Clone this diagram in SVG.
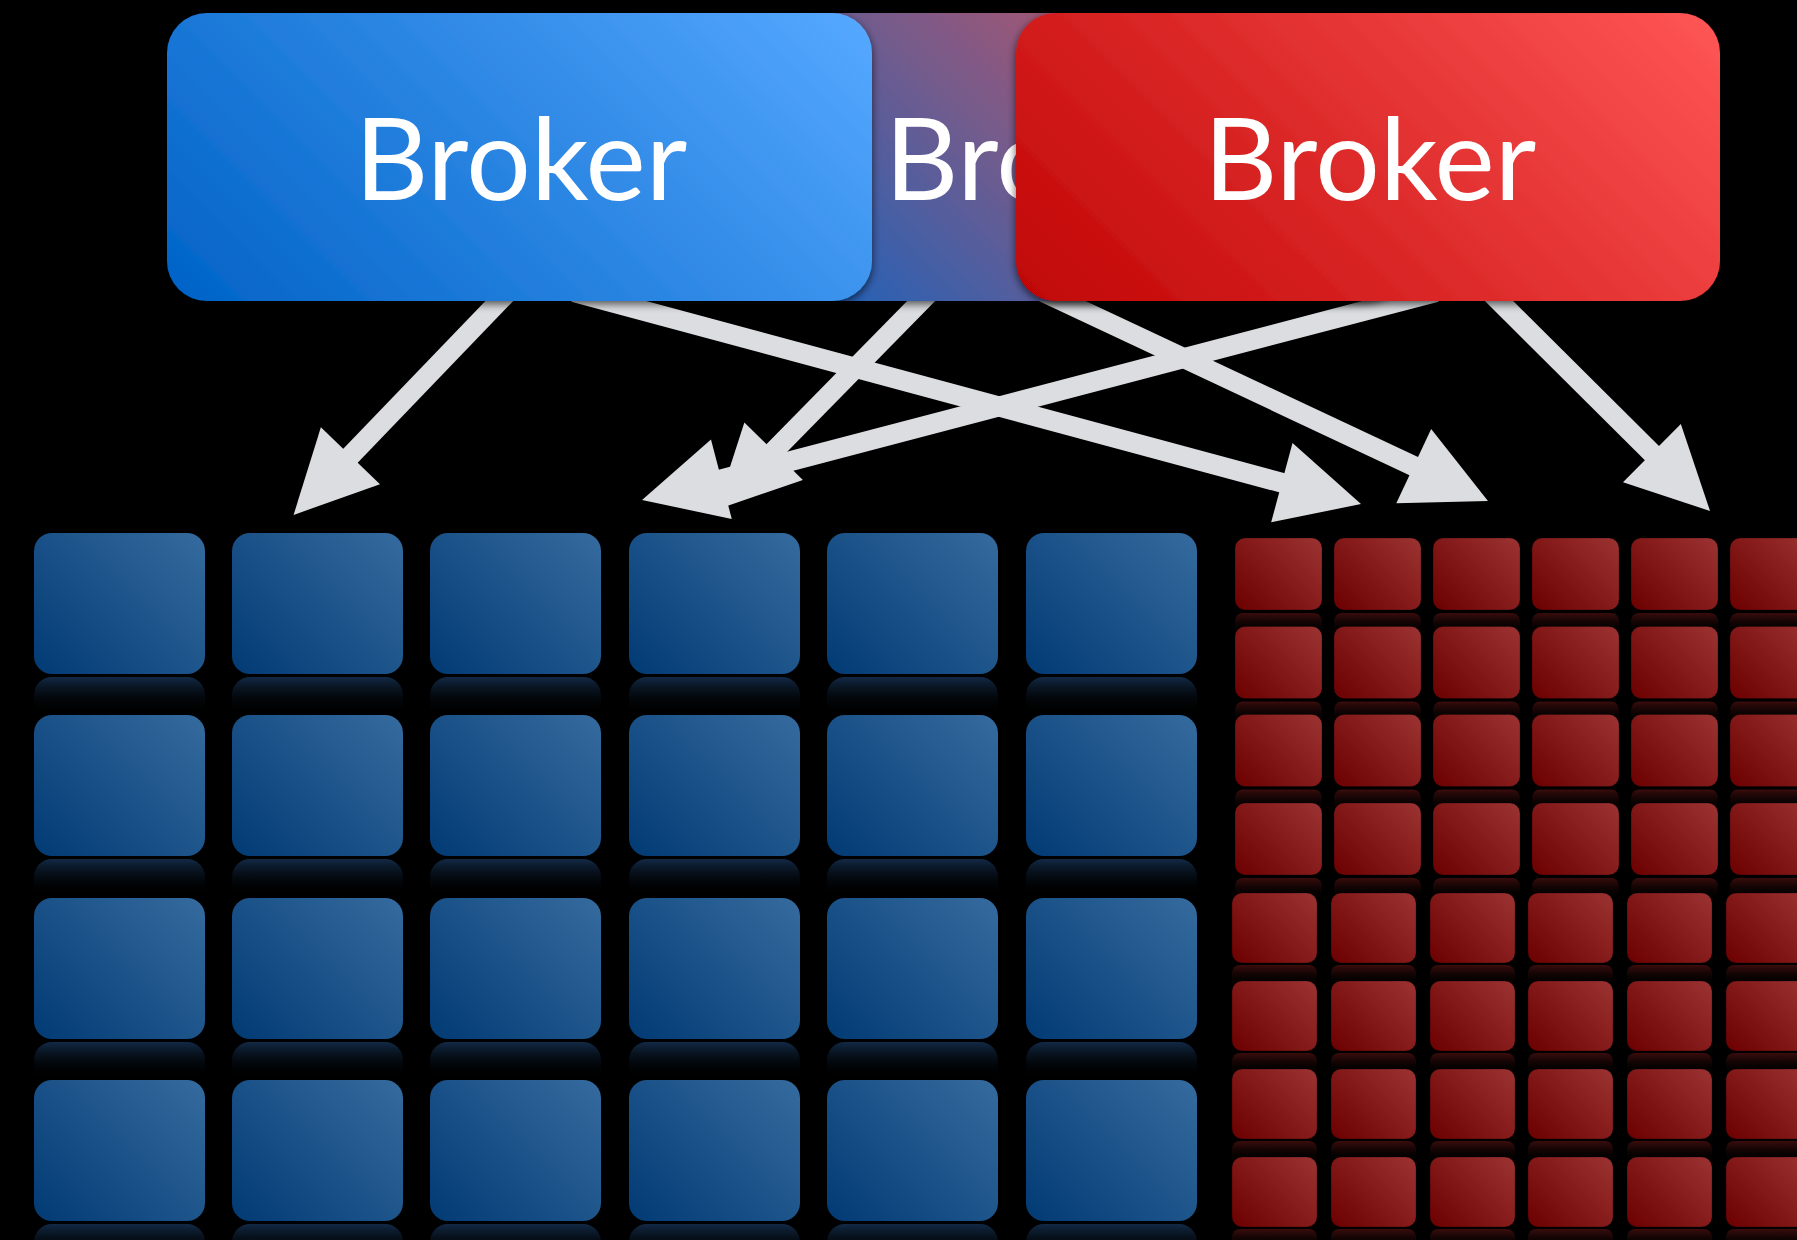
<svg xmlns="http://www.w3.org/2000/svg" xmlns:xlink="http://www.w3.org/1999/xlink" width="1797" height="1240" viewBox="0 0 1797 1240">
  <style>
    .label { font-family: "Lato", "Open Sans", "DejaVu Sans", sans-serif; font-size: 114px; fill: #ffffff; text-anchor: middle; }
    .link { stroke: #dcdde0; stroke-width: 20; fill: none; stroke-linecap: butt; marker-end: url(#head); }
  </style>
  <defs>
    <!-- broker fills: 45 degree sweep from the lower-left corner -->
    <linearGradient id="gBlueBroker" gradientUnits="userSpaceOnUse" x1="167" y1="301" x2="663.5" y2="-195.5">
      <stop offset="0" stop-color="#0062c6"/>
      <stop offset="1" stop-color="#56a9ff"/>
    </linearGradient>
    <linearGradient id="gRedBroker" gradientUnits="userSpaceOnUse" x1="1016" y1="301" x2="1512.5" y2="-195.5">
      <stop offset="0" stop-color="#c00404"/>
      <stop offset="1" stop-color="#ff5656"/>
    </linearGradient>
    <linearGradient id="gMidBroker" gradientUnits="userSpaceOnUse" x1="699" y1="301" x2="1195.5" y2="-195.5">
      <stop offset="0" stop-color="#0364c8"/>
      <stop offset="1" stop-color="#f85046"/>
    </linearGradient>
    <!-- tile fills, in each tile's own coordinates -->
    <linearGradient id="gBlueTile" gradientUnits="userSpaceOnUse" x1="0" y1="141" x2="156" y2="-15">
      <stop offset="0" stop-color="#023a74"/>
      <stop offset="1" stop-color="#356b9e"/>
    </linearGradient>
    <linearGradient id="gRedTileA" gradientUnits="userSpaceOnUse" x1="0" y1="72" x2="79.5" y2="-7.5">
      <stop offset="0" stop-color="#6c0000"/>
      <stop offset="1" stop-color="#9c3333"/>
    </linearGradient>
    <linearGradient id="gRedTileB" gradientUnits="userSpaceOnUse" x1="0" y1="70" x2="77.5" y2="-7.5">
      <stop offset="0" stop-color="#6c0000"/>
      <stop offset="1" stop-color="#9c3333"/>
    </linearGradient>
    <linearGradient id="gBlueRefl" x1="0" y1="0" x2="0" y2="1">
      <stop offset="0" stop-color="#1a3c64" stop-opacity="0.7"/>
      <stop offset="0.75" stop-color="#000000" stop-opacity="0"/>
    </linearGradient>
    <linearGradient id="gRedRefl" x1="0" y1="0" x2="0" y2="1">
      <stop offset="0" stop-color="#4a1010" stop-opacity="0.8"/>
      <stop offset="1" stop-color="#000000" stop-opacity="0"/>
    </linearGradient>
    <filter id="boxShadow" x="-10%" y="-10%" width="120%" height="130%">
      <feDropShadow dx="0" dy="3" stdDeviation="4" flood-color="#000000" flood-opacity="0.65"/>
    </filter>
    <marker id="head" markerUnits="userSpaceOnUse" viewBox="-20 -45 110 90" markerWidth="110" markerHeight="90" refX="10" refY="0" orient="auto">
      <path d="M0,-41 L82,0 L0,41 Z" fill="#dcdde0"/>
    </marker>

    <!-- partition tiles with their floor reflection -->
    <g id="blueTile">
      <rect x="0" y="144" width="171" height="48" rx="18" fill="url(#gBlueRefl)"/>
      <rect x="0" y="0" width="171" height="141" rx="18" fill="url(#gBlueTile)"/>
    </g>
    <g id="redTileA">
      <rect x="0" y="75" width="87" height="22" rx="8" fill="url(#gRedRefl)"/>
      <rect x="0" y="0" width="87" height="72" rx="10" fill="url(#gRedTileA)" stroke="#000" stroke-opacity="0.25" stroke-width="1"/>
    </g>
    <g id="redTileB">
      <rect x="0" y="72" width="85" height="22" rx="8" fill="url(#gRedRefl)"/>
      <rect x="0" y="0" width="85" height="70" rx="10" fill="url(#gRedTileB)" stroke="#000" stroke-opacity="0.25" stroke-width="1"/>
    </g>
  </defs>

  <rect x="0" y="0" width="1797" height="1240" fill="#000000"/>

  <!-- blue partitions: 6 columns x 4 rows -->
  <g id="blue-partitions">
    <use id="bp-1-1" xlink:href="#blueTile" x="34" y="533"/>
    <use id="bp-1-2" xlink:href="#blueTile" x="232" y="533"/>
    <use id="bp-1-3" xlink:href="#blueTile" x="430" y="533"/>
    <use id="bp-1-4" xlink:href="#blueTile" x="629" y="533"/>
    <use id="bp-1-5" xlink:href="#blueTile" x="827" y="533"/>
    <use id="bp-1-6" xlink:href="#blueTile" x="1026" y="533"/>
    <use id="bp-2-1" xlink:href="#blueTile" x="34" y="715"/>
    <use id="bp-2-2" xlink:href="#blueTile" x="232" y="715"/>
    <use id="bp-2-3" xlink:href="#blueTile" x="430" y="715"/>
    <use id="bp-2-4" xlink:href="#blueTile" x="629" y="715"/>
    <use id="bp-2-5" xlink:href="#blueTile" x="827" y="715"/>
    <use id="bp-2-6" xlink:href="#blueTile" x="1026" y="715"/>
    <use id="bp-3-1" xlink:href="#blueTile" x="34" y="898"/>
    <use id="bp-3-2" xlink:href="#blueTile" x="232" y="898"/>
    <use id="bp-3-3" xlink:href="#blueTile" x="430" y="898"/>
    <use id="bp-3-4" xlink:href="#blueTile" x="629" y="898"/>
    <use id="bp-3-5" xlink:href="#blueTile" x="827" y="898"/>
    <use id="bp-3-6" xlink:href="#blueTile" x="1026" y="898"/>
    <use id="bp-4-1" xlink:href="#blueTile" x="34" y="1080"/>
    <use id="bp-4-2" xlink:href="#blueTile" x="232" y="1080"/>
    <use id="bp-4-3" xlink:href="#blueTile" x="430" y="1080"/>
    <use id="bp-4-4" xlink:href="#blueTile" x="629" y="1080"/>
    <use id="bp-4-5" xlink:href="#blueTile" x="827" y="1080"/>
    <use id="bp-4-6" xlink:href="#blueTile" x="1026" y="1080"/>
  </g>

  <!-- red partitions: 6 columns x 8 rows, running off the right edge -->
  <g id="red-partitions">
    <use id="rp-1-1" xlink:href="#redTileA" x="1235" y="538"/>
    <use id="rp-1-2" xlink:href="#redTileA" x="1334" y="538"/>
    <use id="rp-1-3" xlink:href="#redTileA" x="1433" y="538"/>
    <use id="rp-1-4" xlink:href="#redTileA" x="1532" y="538"/>
    <use id="rp-1-5" xlink:href="#redTileA" x="1631" y="538"/>
    <use id="rp-1-6" xlink:href="#redTileA" x="1730" y="538"/>
    <use id="rp-2-1" xlink:href="#redTileA" x="1235" y="626.5"/>
    <use id="rp-2-2" xlink:href="#redTileA" x="1334" y="626.5"/>
    <use id="rp-2-3" xlink:href="#redTileA" x="1433" y="626.5"/>
    <use id="rp-2-4" xlink:href="#redTileA" x="1532" y="626.5"/>
    <use id="rp-2-5" xlink:href="#redTileA" x="1631" y="626.5"/>
    <use id="rp-2-6" xlink:href="#redTileA" x="1730" y="626.5"/>
    <use id="rp-3-1" xlink:href="#redTileA" x="1235" y="714.5"/>
    <use id="rp-3-2" xlink:href="#redTileA" x="1334" y="714.5"/>
    <use id="rp-3-3" xlink:href="#redTileA" x="1433" y="714.5"/>
    <use id="rp-3-4" xlink:href="#redTileA" x="1532" y="714.5"/>
    <use id="rp-3-5" xlink:href="#redTileA" x="1631" y="714.5"/>
    <use id="rp-3-6" xlink:href="#redTileA" x="1730" y="714.5"/>
    <use id="rp-4-1" xlink:href="#redTileA" x="1235" y="803"/>
    <use id="rp-4-2" xlink:href="#redTileA" x="1334" y="803"/>
    <use id="rp-4-3" xlink:href="#redTileA" x="1433" y="803"/>
    <use id="rp-4-4" xlink:href="#redTileA" x="1532" y="803"/>
    <use id="rp-4-5" xlink:href="#redTileA" x="1631" y="803"/>
    <use id="rp-4-6" xlink:href="#redTileA" x="1730" y="803"/>
    <use id="rp-5-1" xlink:href="#redTileB" x="1232" y="893"/>
    <use id="rp-5-2" xlink:href="#redTileB" x="1331" y="893"/>
    <use id="rp-5-3" xlink:href="#redTileB" x="1430" y="893"/>
    <use id="rp-5-4" xlink:href="#redTileB" x="1528" y="893"/>
    <use id="rp-5-5" xlink:href="#redTileB" x="1627" y="893"/>
    <use id="rp-5-6" xlink:href="#redTileB" x="1726" y="893"/>
    <use id="rp-6-1" xlink:href="#redTileB" x="1232" y="981"/>
    <use id="rp-6-2" xlink:href="#redTileB" x="1331" y="981"/>
    <use id="rp-6-3" xlink:href="#redTileB" x="1430" y="981"/>
    <use id="rp-6-4" xlink:href="#redTileB" x="1528" y="981"/>
    <use id="rp-6-5" xlink:href="#redTileB" x="1627" y="981"/>
    <use id="rp-6-6" xlink:href="#redTileB" x="1726" y="981"/>
    <use id="rp-7-1" xlink:href="#redTileB" x="1232" y="1069"/>
    <use id="rp-7-2" xlink:href="#redTileB" x="1331" y="1069"/>
    <use id="rp-7-3" xlink:href="#redTileB" x="1430" y="1069"/>
    <use id="rp-7-4" xlink:href="#redTileB" x="1528" y="1069"/>
    <use id="rp-7-5" xlink:href="#redTileB" x="1627" y="1069"/>
    <use id="rp-7-6" xlink:href="#redTileB" x="1726" y="1069"/>
    <use id="rp-8-1" xlink:href="#redTileB" x="1232" y="1157"/>
    <use id="rp-8-2" xlink:href="#redTileB" x="1331" y="1157"/>
    <use id="rp-8-3" xlink:href="#redTileB" x="1430" y="1157"/>
    <use id="rp-8-4" xlink:href="#redTileB" x="1528" y="1157"/>
    <use id="rp-8-5" xlink:href="#redTileB" x="1627" y="1157"/>
    <use id="rp-8-6" xlink:href="#redTileB" x="1726" y="1157"/>
  </g>

  <!-- connectors from brokers down to partitions -->
  <g id="connectors">
    <line class="link" x1="508" y1="292" x2="343.5" y2="463"/>
    <line class="link" x1="574" y1="292" x2="1291.5" y2="485.3"/>
    <line class="link" x1="930" y1="292" x2="766.6" y2="458.4"/>
    <line class="link" x1="1043" y1="292" x2="1422.8" y2="470.4"/>
    <line class="link" x1="1436" y1="292" x2="711.7" y2="481.8"/>
    <line class="link" x1="1490" y1="292" x2="1659" y2="460.2"/>
  </g>

  <!-- brokers: the middle one sits behind the other two -->
  <g id="broker-middle" filter="url(#boxShadow)">
    <rect x="699" y="13" width="705" height="288" rx="40" fill="url(#gMidBroker)"/>
    <text class="label" x="1051" y="200">Broker</text>
  </g>
  <g id="broker-blue" filter="url(#boxShadow)">
    <rect x="167" y="13" width="705" height="288" rx="40" fill="url(#gBlueBroker)"/>
    <text class="label" x="521" y="200">Broker</text>
  </g>
  <g id="broker-red" filter="url(#boxShadow)">
    <rect x="1016" y="13" width="704" height="288" rx="40" fill="url(#gRedBroker)"/>
    <text class="label" x="1370" y="200">Broker</text>
  </g>
</svg>
